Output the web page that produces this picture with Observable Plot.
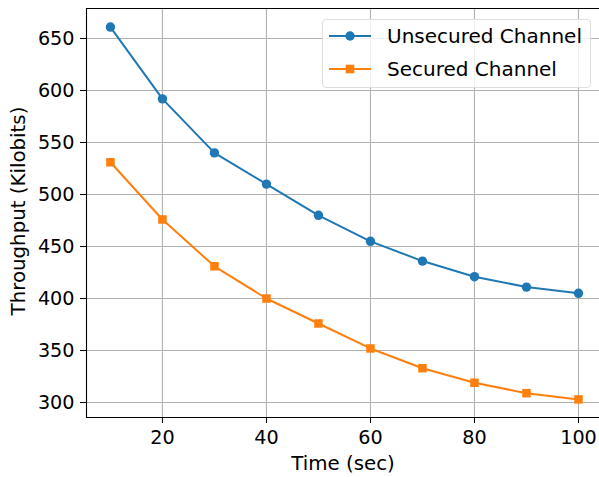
<!DOCTYPE html>
<html>
<head>
<meta charset="utf-8">
<script src="https://cdn.jsdelivr.net/npm/d3@7"></script>
<script src="https://cdn.jsdelivr.net/npm/@observablehq/plot@0.6"></script>
<style>
  html, body { margin: 0; padding: 0; background: #fff; }
  #wrap { position: relative; width: 599px; height: 477px; overflow: hidden; font-family: "DejaVu Sans", sans-serif; }
  #legend { position: absolute; left: 322px; top: 19px; width: 269px; height: 69px;
    border: 1px solid #dedede; border-radius: 4px; background: rgba(255,255,255,0.8); box-sizing: border-box; }
  .row { position: absolute; left: 0; height: 30px; display: flex; align-items: center; }
  .row svg { margin-left: 6px; }
  .row span { margin-left: 16px; font-size: 20px; color: #000; }
</style>
</head>
<body>
<div id="wrap"></div>
<script>
const time = [10, 20, 30, 40, 50, 60, 70, 80, 90, 100];
const unsecured = [661, 592, 540, 510, 480, 455, 436, 421, 411, 405];
const secured = [531, 476, 431, 400, 376, 352, 333, 319, 309, 303];
const seriesNames = ["Unsecured Channel", "Secured Channel"];
const seriesColors = ["#1f77b4", "#ff7f0e"];
const xTicks = [20, 40, 60, 80, 100];
const yTicks = [300, 350, 400, 450, 500, 550, 600, 650];

const unsecData = time.map((t, i) => ({t, v: unsecured[i]}));
const secData = time.map((t, i) => ({t, v: secured[i]}));

const chart = Plot.plot({
  width: 599,
  height: 477,
  marginTop: 8,
  marginBottom: 60,
  marginLeft: 86,
  marginRight: 0,
  style: {fontFamily: "DejaVu Sans, sans-serif", background: "white", overflow: "visible"},
  x: {domain: [5.4, 104.04]},
  y: {domain: [285.6, 678.85]},
  marks: [
    Plot.gridX(xTicks, {stroke: "#b0b0b0", strokeOpacity: 1, strokeWidth: 1.1}),
    Plot.gridY(yTicks, {stroke: "#b0b0b0", strokeOpacity: 1, strokeWidth: 1.1}),
    Plot.line(unsecData, {x: "t", y: "v", stroke: seriesColors[0], strokeWidth: 2}),
    Plot.dot(unsecData, {x: "t", y: "v", fill: seriesColors[0], r: 4.7, symbol: "circle"}),
    Plot.line(secData, {x: "t", y: "v", stroke: seriesColors[1], strokeWidth: 2}),
    Plot.dot(secData, {x: "t", y: "v", fill: seriesColors[1], r: 4.8, symbol: "square"}),
    Plot.frame({anchor: "top", stroke: "#000", strokeWidth: 1.1}),
    Plot.frame({anchor: "left", stroke: "#000", strokeWidth: 1.1}),
    Plot.frame({anchor: "bottom", stroke: "#000", strokeWidth: 1.1}),
    Plot.axisX(xTicks, {tickSize: 6, tickPadding: 7, fontSize: 19.2, label: null, tickFormat: d3.format("d"), color: "#000"}),
    Plot.axisY(yTicks, {tickSize: 6, tickPadding: 6, fontSize: 19.2, label: null, tickFormat: d3.format("d"), color: "#000"}),
    Plot.text(["Time (sec)"], {frameAnchor: "bottom", lineAnchor: "middle", dy: 46, fontSize: 19.8, fill: "#000"}),
    Plot.text(["Throughput (Kilobits)"], {frameAnchor: "left", lineAnchor: "middle", textAnchor: "middle", rotate: -90, dx: -68, dy: -2, fontSize: 19.8, fill: "#000"})
  ]
});
const wrap = document.getElementById("wrap");
wrap.appendChild(chart);

// legend
const legend = document.createElement("div");
legend.id = "legend";
seriesNames.forEach((name, i) => {
  const row = document.createElement("div");
  row.className = "row";
  row.style.top = (i === 0 ? 1 : 34) + "px";
  const marker = i === 0
    ? `<circle cx="21" cy="8" r="4.7" fill="${seriesColors[i]}"/>`
    : `<rect x="16.7" y="3.7" width="8.6" height="8.6" fill="${seriesColors[i]}"/>`;
  row.innerHTML = `<svg width="42" height="16"><line x1="0" x2="42" y1="8" y2="8" stroke="${seriesColors[i]}" stroke-width="2"/>${marker}</svg><span>${name}</span>`;
  legend.appendChild(row);
});
wrap.appendChild(legend);
</script>
</body>
</html>
